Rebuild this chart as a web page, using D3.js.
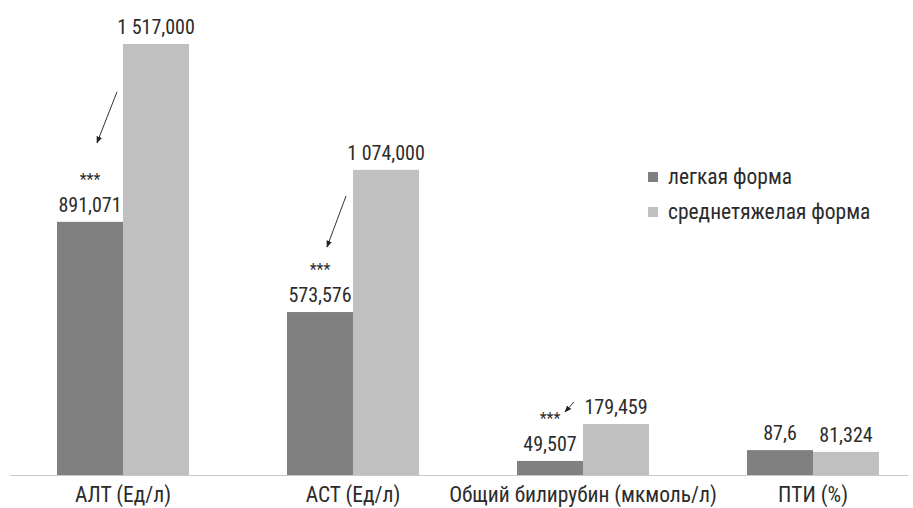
<!DOCTYPE html>
<html>
<head>
<meta charset="utf-8">
<script src="https://cdn.jsdelivr.net/npm/d3@7/dist/d3.min.js"></script>
<style>
  html, body { margin: 0; padding: 0; background: #fff; }
  svg { display: block; }
  text { font-family: "Liberation Sans Narrow", "Roboto Condensed", "Arial Narrow", sans-serif; font-weight: 400; fill: #2b2b2b; }
</style>
</head>
<body>
<svg id="chart" width="913" height="508"></svg>
<script>
// Лабораторные показатели по формам тяжести
const categories = ["АЛТ (Ед/л)", "АСТ (Ед/л)", "Общий билирубин (мкмоль/л)", "ПТИ (%)"];
const seriesNames = ["легкая форма", "среднетяжелая форма"];
const mildValues = [891.071, 573.576, 49.507, 87.6];
const moderateValues = [1517.000, 1074.000, 179.459, 81.324];
const valueLabels = [
  ["891,071", "573,576", "49,507", "87,6"],
  ["1 517,000", "1 074,000", "179,459", "81,324"]
];
// significance marks over the mild-form bars (p < 0.001)
const significance = ["***", "***", "***", ""];

const colors = ["#808080", "#c0c0c0"];

const svg = d3.select("#chart");
const baseY = 475;

const x = d3.scaleBand().domain(categories).range([8, 928]).paddingInner(0).paddingOuter(0);
const groupWidth = 132;
const xs = d3.scaleBand().domain([0, 1]).range([-groupWidth / 2, groupWidth / 2]);
const y = d3.scaleLinear().domain([0, 1517]).range([baseY, 44]);

const data = categories.map((c, i) => ({
  cat: c,
  vals: [mildValues[i], moderateValues[i]],
  labels: [valueLabels[0][i], valueLabels[1][i]],
  sig: significance[i]
}));

const cx = c => x(c) + x.bandwidth() / 2;

// bars
const groups = svg.append("g").selectAll("g").data(data).join("g");
groups.selectAll("rect")
  .data(d => d.vals.map((v, k) => ({ cat: d.cat, v, k, label: d.labels[k] })))
  .join("rect")
  .attr("x", d => cx(d.cat) + xs(d.k))
  .attr("y", d => y(d.v))
  .attr("width", xs.bandwidth())
  .attr("height", d => baseY - y(d.v))
  .attr("fill", d => colors[d.k]);

// value labels
groups.selectAll("text.val")
  .data(d => d.vals.map((v, k) => ({ cat: d.cat, v, k, label: d.labels[k] })))
  .join("text")
  .attr("class", "val")
  .attr("x", d => cx(d.cat) + xs(d.k) + xs.bandwidth() / 2)
  .attr("y", d => y(d.v) - 10)
  .attr("text-anchor", "middle")
  .attr("font-size", 20)
  .text(d => d.label);

// category axis
const axis = svg.append("g").attr("transform", `translate(0,${baseY})`);
axis.append("line").attr("x1", 10).attr("x2", 908).attr("y1", 0.5).attr("y2", 0.5)
  .attr("stroke", "#c8c8c8").attr("stroke-width", 1);
axis.selectAll("text").data(categories).join("text")
  .attr("x", d => cx(d))
  .attr("y", 27)
  .attr("text-anchor", "middle")
  .attr("font-size", 21.5)
  .text(d => d);

// significance asterisks
svg.append("g").selectAll("text").data(data.filter(d => d.sig)).join("text")
  .attr("x", d => cx(d.cat) + xs(0) + xs.bandwidth() / 2)
  .attr("y", d => y(d.vals[0]) - 37)
  .attr("text-anchor", "middle")
  .attr("font-size", 16)
  .text(d => d.sig);

// arrows pointing from the moderate bar towards the mild-form mark
const defs = svg.append("defs");
defs.append("marker").attr("id", "arr").attr("viewBox", "0 0 10 10")
  .attr("refX", 9).attr("refY", 5).attr("markerWidth", 7).attr("markerHeight", 7)
  .attr("orient", "auto")
  .append("path").attr("d", "M0,1 L10,5 L0,9 Z").attr("fill", "#222");

const arrows = [
  { cat: categories[0], dx1: -6, dy1: -130, dx2: -26, dy2: -79 },
  { cat: categories[1], dx1: -7, dy1: -116, dx2: -26, dy2: -65 },
  { cat: categories[2], dx1: -9, dy1: -59, dx2: -18, dy2: -49 }
];
svg.append("g").selectAll("line").data(arrows).join("line")
  .attr("x1", d => cx(d.cat) + d.dx1)
  .attr("y1", (d, i) => y(mildValues[i]) + d.dy1)
  .attr("x2", d => cx(d.cat) + d.dx2)
  .attr("y2", (d, i) => y(mildValues[i]) + d.dy2)
  .attr("stroke", "#333").attr("stroke-width", 1)
  .attr("marker-end", "url(#arr)");

// legend
const legend = svg.append("g").attr("transform", "translate(648,172)");
const li = legend.selectAll("g").data(seriesNames).join("g")
  .attr("transform", (d, i) => `translate(0,${i * 35})`);
li.append("rect").attr("width", 10).attr("height", 10).attr("fill", (d, i) => colors[i]);
li.append("text").attr("x", 20).attr("y", 12).attr("font-size", 21.5).text(d => d);
</script>
</body>
</html>
